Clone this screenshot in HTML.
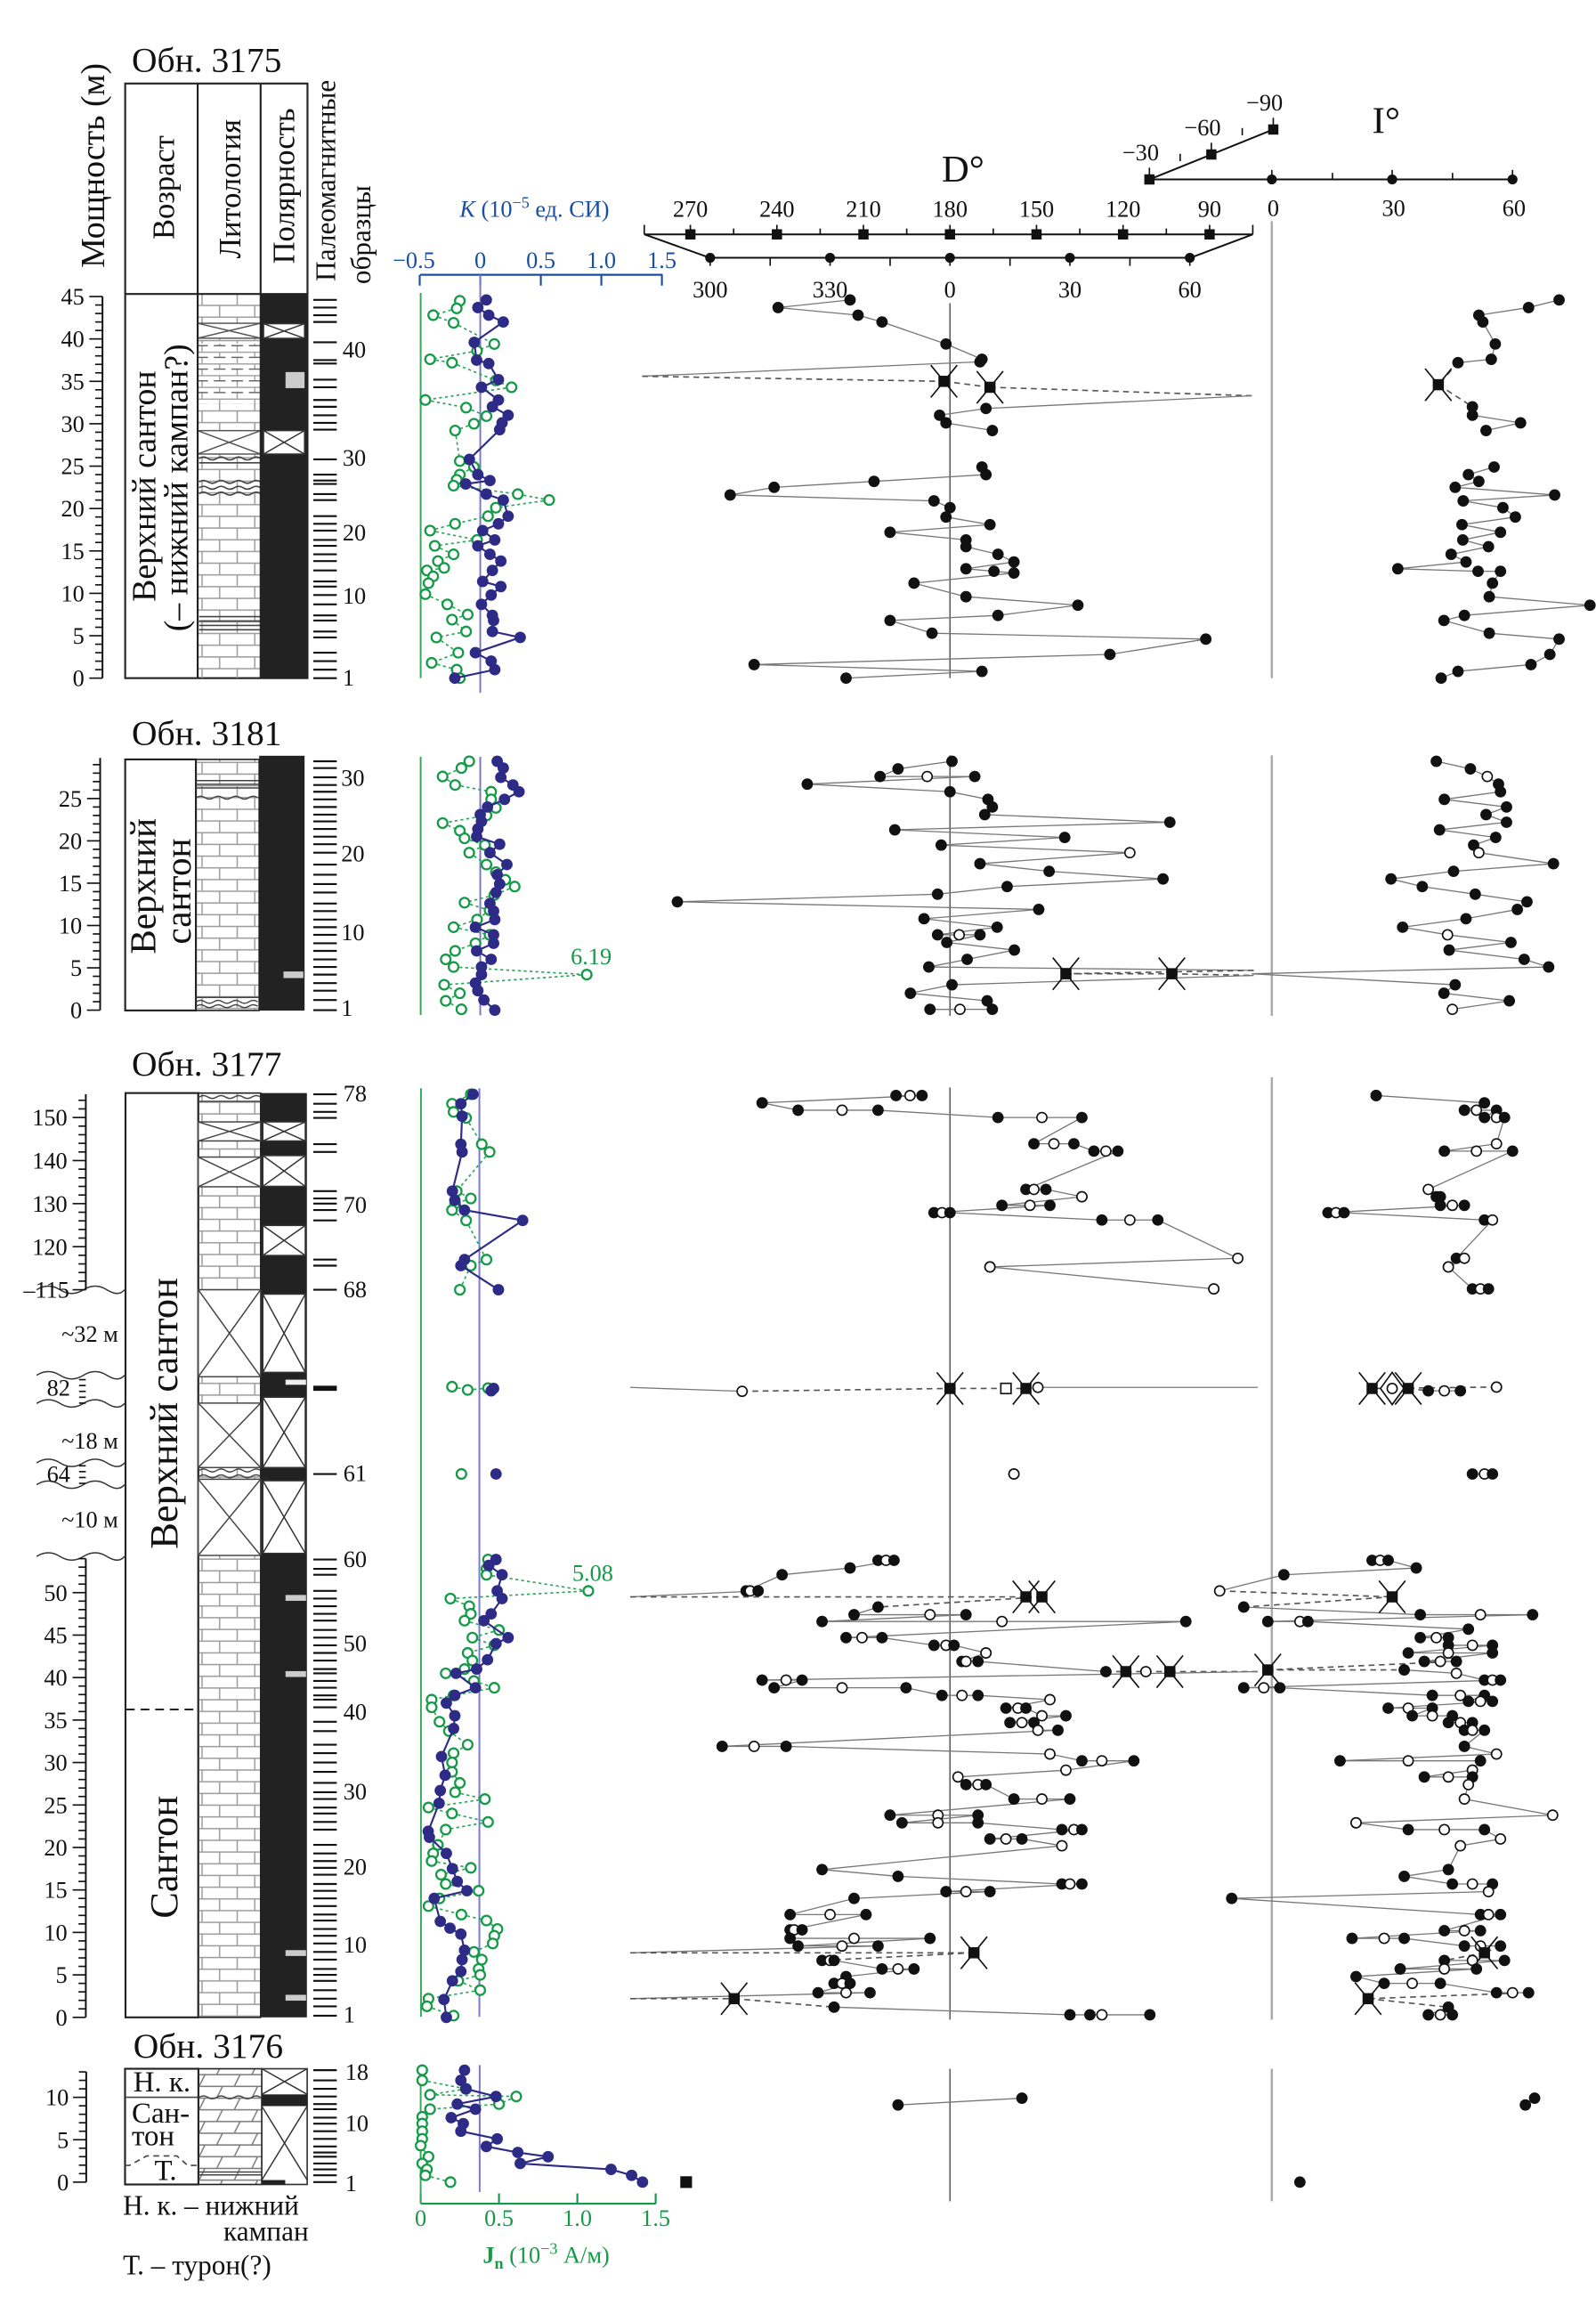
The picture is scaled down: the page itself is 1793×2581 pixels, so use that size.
<!DOCTYPE html>
<html><head><meta charset="utf-8">
<style>
html,body{margin:0;padding:0;background:#fff}
svg{display:block}
text{font-family:"Liberation Serif",serif;fill:#111}
</style></head>
<body>
<svg id="chart" xmlns="http://www.w3.org/2000/svg" width="1793" height="2581" viewBox="0 0 1090 1569">
<defs>
<pattern id="brick" patternUnits="userSpaceOnUse" width="24" height="16"><path d="M0 0.5H24M0 8.5H24M6 0.5V8.5M18 8.5V16" stroke="#9a9a9a" stroke-width="0.9" fill="none"/></pattern>
<pattern id="limedash" patternUnits="userSpaceOnUse" width="24" height="8"><path d="M0 0.5H24M6 0.5V4M18 4V8" stroke="#9a9a9a" stroke-width="0.8" fill="none"/><path d="M2 4H10M14 4H22" stroke="#666" stroke-width="0.9" fill="none"/></pattern>
<pattern id="slash" patternUnits="userSpaceOnUse" width="24" height="16"><path d="M0 0.5H24M0 8.5H24M4 8.5L8 0.5M16 16.5L20 8.5" stroke="#777" stroke-width="0.9" fill="none"/></pattern>
</defs>
<rect x="0" y="0" width="1090" height="1569" fill="#fff"/>

<text transform="translate(71,113) rotate(-90)" text-anchor="middle" font-size="23">Мощность (м)</text>
<text transform="translate(229,192) rotate(-90)" text-anchor="start" font-size="19">Палеомагнитные</text>
<text transform="translate(253,194) rotate(-90)" text-anchor="start" font-size="19">образцы</text>

<g fill="none">
<line x1="287" y1="187.6" x2="452.5" y2="187.6" stroke="#1a4ea0" stroke-width="1.3"/>
<text x="365" y="148" text-anchor="middle" font-size="16" style="fill:#1a4ea0"><tspan font-style="italic">K</tspan> (10<tspan dy="-6" font-size="11">−5</tspan><tspan dy="6"> ед. СИ)</tspan></text>
</g>
<g id="kticks"></g>

<g stroke="#111" fill="none">
<line x1="440" y1="160" x2="855.6" y2="160" stroke-width="1.2"/>
<line x1="440" y1="153.5" x2="440" y2="160"/>
<line x1="855.6" y1="153.5" x2="855.6" y2="160"/>
<line x1="484.8" y1="176" x2="813" y2="176" stroke-width="1.2"/>
<line x1="440" y1="160" x2="484.8" y2="176" stroke-width="1.2"/>
<line x1="855.6" y1="160" x2="813" y2="176" stroke-width="1.2"/>
</g>
<text x="657.7" y="124" text-anchor="middle" font-size="26">D°</text>
<g id="dticks"></g>

<g stroke="#111" fill="none">
<line x1="785" y1="122.5" x2="1033.6" y2="122.5" stroke-width="1.2"/>
<line x1="785" y1="122.5" x2="869.6" y2="88.4" stroke-width="1.2"/>
</g>
<text x="946.7" y="91" text-anchor="middle" font-size="26">I°</text>
<g id="iticks"></g>

<!-- ===== Section 1: 3175 ===== -->
<g>
<text x="90" y="49" font-size="24">Обн. 3175</text>
<rect x="85.5" y="57" width="124.5" height="406" fill="#fff" stroke="#222" stroke-width="1.3"/>
<rect x="135" y="200.7" width="43" height="262.3" fill="url(#brick)"/>
<rect x="135" y="234.6" width="43" height="41" fill="#fff"/>
<rect x="135" y="234.6" width="43" height="41" fill="url(#limedash)"/>
<g stroke="#555" stroke-width="0.9" fill="#fff">
<rect x="135" y="220.7" width="43" height="10.2"/><path d="M135 220.7L178 230.9M178 220.7L135 230.9"/>
<rect x="135" y="294" width="43" height="16"/><path d="M135 294L178 310M178 294L135 310"/>
</g>
<path d="M136 313q3-2 6 0t6 0t6 0t6 0t6 0t6 0t6 0M136 316h42M136 329q3-2 6 0t6 0t6 0t6 0t6 0t6 0t6 0M136 333q3-2 6 0t6 0t6 0t6 0t6 0t6 0t6 0M136 337q3-2 6 0t6 0t6 0t6 0t6 0t6 0t6 0M136 421h42M136 424h42M136 427h42M136 430h42" stroke="#444" stroke-width="1" fill="none"/>
<line x1="135" y1="57" x2="135" y2="463" stroke="#222" stroke-width="1.3"/>
<line x1="178" y1="57" x2="178" y2="463" stroke="#222" stroke-width="1.3"/>
<line x1="85.5" y1="200.7" x2="210" y2="200.7" stroke="#222" stroke-width="1.3"/>
<rect x="178" y="200.7" width="32" height="262.3" fill="#222"/>
<g stroke="#333" stroke-width="0.9" fill="#fff">
<rect x="180" y="221" width="28" height="10"/><path d="M180 221L208 231M208 221L180 231"/>
<rect x="180" y="294" width="28" height="16"/><path d="M180 294L208 310M208 294L180 310"/>
</g>
<rect x="195" y="254" width="13" height="11" fill="#ccc"/>
<text transform="translate(119,128) rotate(-90)" text-anchor="middle" font-size="21">Возраст</text>
<text transform="translate(164,129) rotate(-90)" text-anchor="middle" font-size="21">Литология</text>
<text transform="translate(201,127) rotate(-90)" text-anchor="middle" font-size="21">Полярность</text>
<text transform="translate(106,332) rotate(-90)" text-anchor="middle" font-size="23">Верхний сантон</text>
<text transform="translate(128,333) rotate(-90)" text-anchor="middle" font-size="23">(– нижний кампан?)</text>
<g font-size="16">
<text x="234" y="468">1</text>
<text x="234" y="412">10</text>
<text x="234" y="369">20</text>
<text x="234" y="318">30</text>
<text x="234" y="244">40</text>
</g>
</g>

<!-- ===== Section 2: 3181 ===== -->
<g>
<text x="90" y="508.4" font-size="24">Обн. 3181</text>
<rect x="85.5" y="518.5" width="48.3" height="171.4" fill="#fff" stroke="#222" stroke-width="1.3"/>
<rect x="133.8" y="518.5" width="43.2" height="171.4" fill="url(#brick)" stroke="#222" stroke-width="1"/>
<path d="M134 533h43M134 535.5h43M134 538h43M134 544.6q3-2 6 0t6 0t6 0t6 0t6 0t6 0t6 0M134 681h43M134 684q3-2 6 0t6 0t6 0t6 0t6 0t6 0t6 0M134 687q3-2 6 0t6 0t6 0t6 0t6 0t6 0t6 0" stroke="#444" stroke-width="0.9" fill="none"/>
<rect x="177" y="516" width="31" height="174" fill="#222"/>
<rect x="193.6" y="663.3" width="13.6" height="4.5" fill="#ccc"/>
<text transform="translate(106,605) rotate(-90)" text-anchor="middle" font-size="25">Верхний</text>
<text transform="translate(130,608.5) rotate(-90)" text-anchor="middle" font-size="25">сантон</text>
<g font-size="16">
<text x="233" y="536.5">30</text>
<text x="233" y="588">20</text>
<text x="233" y="642">10</text>
<text x="233" y="693.5">1</text>
</g>
</g>

<!-- ===== Section 3: 3177 ===== -->
<g>
<text x="90" y="734.4" font-size="24">Обн. 3177</text>
<rect x="85.7" y="746.3" width="49.7" height="631.1" fill="#fff" stroke="#222" stroke-width="1.3"/>
<line x1="86" y1="1167.2" x2="135" y2="1167.2" stroke="#222" stroke-width="1.2" stroke-dasharray="6,4"/>
<text transform="translate(121,965) rotate(-90)" text-anchor="middle" font-size="27">Верхний сантон</text>
<text transform="translate(121,1268) rotate(-90)" text-anchor="middle" font-size="27">Сантон</text>
<rect x="135.4" y="746.3" width="42.6" height="631.1" fill="url(#brick)" stroke="#222" stroke-width="1"/>
<path d="M136 749q3-2 6 0t6 0t6 0t6 0t6 0t6 0t6 0M136 752h42M136 1004q3-2 6 0t6 0t6 0t6 0t6 0t6 0t6 0M136 1008q3-2 6 0t6 0t6 0t6 0t6 0t6 0t6 0" stroke="#444" stroke-width="0.9" fill="none"/>
<rect x="178" y="746.3" width="31.6" height="631.1" fill="#222"/>
<g id="s3gaps"></g>
<g fill="#ccc">
<rect x="195" y="1089" width="14" height="4"/>
<rect x="195" y="1141" width="14" height="4"/>
<rect x="195" y="1331.5" width="14" height="4"/>
<rect x="195" y="1362" width="14" height="4"/>
<rect x="195" y="942" width="14" height="3.5" fill="#eee"/>
</g>
<g stroke="#333" fill="none" stroke-width="0.9">
<path d="M25 880.6q8-5 16 0t16 0t16 0t12 0"/>
<path d="M25 939q8-5 16 0t16 0t16 0t12 0"/>
<path d="M25 958.2q8-5 16 0t16 0t16 0t12 0"/>
<path d="M25 998.8q8-5 16 0t16 0t16 0t12 0"/>
<path d="M25 1013.7q8-5 16 0t16 0t16 0t12 0"/>
<path d="M25 1062.7q8-5 16 0t16 0t16 0t12 0"/>
</g>
<g font-size="16">
<text x="16" y="886">–115</text>
<text x="42" y="916">~32 м</text>
<text x="32" y="953">82</text>
<text x="42" y="989">~18 м</text>
<text x="32" y="1012">64</text>
<text x="42" y="1043">~10 м</text>
</g>
<g font-size="16">
<text x="234.5" y="752">78</text>
<text x="234.5" y="828">70</text>
<text x="234.5" y="885.6">68</text>
<text x="234.5" y="1011.4">61</text>
<text x="234.5" y="1069.9">60</text>
<text x="234.5" y="1127.4">50</text>
<text x="234.5" y="1174.3">40</text>
<text x="234.5" y="1228.5">30</text>
<text x="234.5" y="1280.1">20</text>
<text x="234.5" y="1333">10</text>
<text x="234.5" y="1381">1</text>
</g>
</g>

<!-- ===== Section 4: 3176 ===== -->
<g>
<text x="91" y="1405" font-size="24">Обн. 3176</text>
<rect x="85.4" y="1412.5" width="50.1" height="79" fill="#fff" stroke="#222" stroke-width="1.3"/>
<line x1="85.4" y1="1432" x2="135.5" y2="1432" stroke="#444" stroke-width="1"/>
<path d="M85.4 1478.5H88.4L100.2 1472H120.8L128.2 1478.5H135.5" stroke="#444" stroke-width="1" stroke-dasharray="4,3" fill="none"/>
<text x="91" y="1428" font-size="20">Н. к.</text>
<text x="90" y="1449.3" font-size="20">Сан-</text>
<text x="90" y="1464.8" font-size="20">тон</text>
<text x="105.5" y="1488.5" font-size="20">Т.</text>
<rect x="135.5" y="1412.5" width="43.3" height="79" fill="url(#slash)" stroke="#222" stroke-width="1"/>
<path d="M136 1432q3-2 6 0t6 0t6 0t6 0t6 0t6 0t6 0M136 1483h43M136 1485h43" stroke="#444" stroke-width="0.9" fill="none"/>
<rect x="178.8" y="1412.5" width="31" height="79" fill="#fff" stroke="#333" stroke-width="1"/>
<path d="M178.8 1412.5L209.8 1430M209.8 1412.5L178.8 1430M178.8 1438L209.8 1488.5M209.8 1438L178.8 1488.5" stroke="#333" stroke-width="0.9" fill="none"/>
<rect x="178.8" y="1430" width="31" height="8" fill="#222"/>
<rect x="178.8" y="1488.5" width="16" height="3" fill="#222"/>
<g font-size="16">
<text x="235.7" y="1420">18</text>
<text x="235.7" y="1455">10</text>
<text x="235.7" y="1496">1</text>
</g>
<text x="84" y="1512.3" font-size="19">Н. к. – нижний</text>
<text x="152.6" y="1529.8" font-size="19">кампан</text>
<text x="84" y="1553" font-size="19">Т. – турон(?)</text>
</g>

<g>
<line x1="287.3" y1="1504.6" x2="447.9" y2="1504.6" stroke="#159a47" stroke-width="1.3"/>
<text x="373" y="1545" text-anchor="middle" font-size="16" style="fill:#159a47"><tspan font-weight="bold">J</tspan><tspan font-weight="bold" dy="4" font-size="11">n</tspan><tspan dy="-4"> (10</tspan><tspan dy="-6" font-size="11">−3</tspan><tspan dy="6"> А/м)</tspan></text>
</g>
<g id="jticks"></g>

<g id="frames"></g>
<g id="depthaxes"></g>
<g id="sampleticks"></g>
<g id="marks"></g>
</svg>

<script>
// ---------------- DATA ----------------
const s1KDepth = [44.6,43.7,42.8,42,39.6,37.5,37.1,35.2,34.3,32.8,32,31,30.1,29.3,25.8,24,23.3,22.9,21.7,21,19.1,18.2,17.4,16.3,15.6,14.6,13.8,12.7,11.4,10.8,9.8,8.7,7.4,6.8,5.5,4.8,3,2,1,0];
const s1KVal = [0.05,-0.02,0.07,0.19,-0.05,-0.03,0.07,0.15,0.01,0.15,0.1,0.23,0.18,0.16,-0.09,-0.02,0.08,-0.12,0.05,0.19,0.23,0.15,0.02,0.12,-0.02,0.08,0.17,0.1,0.02,0.17,0.09,0.01,0.1,0.11,0.1,0.33,-0.04,0.09,0.12,-0.21];
const s1JDepth = [44.5,43.6,42.8,41.9,39.4,38.6,37.6,37.2,35.1,34.3,32.8,31.9,30.9,30,29.2,25.6,24.9,24,23.4,22.7,21.7,21,20.1,19.1,18.2,17.4,16.3,15.6,14.6,13.8,13,12.7,12,11.2,9.9,8.7,7.5,6.9,5.5,4.8,3,1.8,1,0];
const s1JVal = [0.25,0.23,0.08,0.21,0.47,0.36,0.06,0.2,0.48,0.58,0.03,0.29,0.42,0.34,0.22,0.25,0.34,0.25,0.23,0.21,0.62,0.82,0.48,0.43,0.22,0.06,0.36,0.09,0.21,0.11,0.15,0.04,0.08,0.05,0.03,0.17,0.3,0.2,0.29,0.1,0.24,0.07,0.23,0.25];
const s1DDepth = [44.6,43.7,42.8,42,39.4,37.6,37.3,35.6,35,34.3,33.3,31.8,31,30.1,29.2,null,24.9,24,23.2,22.5,21.6,20.9,20.1,19,18.1,17.2,16.3,15.5,14.6,13.7,12.9,12.6,12.4,11.2,9.6,8.6,7.4,6.8,5.3,4.6,2.8,1.6,0.8,0];
const s1DVal = [-25,-43,-23,-17,-1,8,7.5,-77,-1.5,10,75.5,9,-2.6,-1,10.6,null,8,9,-19,-44,-55,-4,0,-1,10,-15,4,4,12,16,4,11,16,-9,4,32,12,-15,-4.5,64,40,-49,8,-26];
const s1DType = "000000032230000-0000000000000000000000000000";
const s1IDepth = [44.6,43.7,42.8,42,39.4,37.6,37.2,34.6,32,31,30.1,29.2,null,24.9,24,23.2,22.5,21.6,20.9,20.1,19,18.1,17.2,16.3,15.5,14.6,13.7,12.9,12.6,12.6,11.2,9.6,8.6,7.4,6.8,5.3,4.6,2.8,1.6,0.8,0];
const s1IVal = [71.6,64,51.6,52.6,55.7,54.7,46.4,41.5,50,50,62,53.4,null,55.4,49,51.6,45.7,70.5,47.7,57.6,60.7,47.4,57,47.6,54,44.7,48.4,31.4,51.4,57,55,54.2,79.3,48,42.9,54.2,71.6,69.3,64.6,46.4,42.2];
const s1IType = "000000020000-0000000000000000000000000000";

const s2KDepth = [29.4,28.6,27.5,26.6,25.8,24.9,24,23.1,22.3,21.4,20.5,19.6,18.6,17.2,16,14.9,13.9,12.6,11.7,10.7,9.8,8.9,7.9,7,6,5.1,4.2,3.2,2.3,1.2,0];
const s2KVal = [0.14,0.19,0.17,0.27,0.32,0.2,0.06,0,0.01,-0.02,-0.03,0.16,0.08,0.22,0.14,0.16,0.13,0.08,0.11,0.12,-0.04,0.11,0.11,-0.03,0.09,0.01,0.01,-0.04,-0.02,0.03,0.12];
const s2JDepth = [29.4,28.6,27.6,26.6,25.8,24.9,23.9,23,22.1,21.2,20.3,19.5,18.6,17.2,16.3,15.4,14.6,13.6,12.7,11.8,10.7,9.8,8.9,7.9,7,6,5.1,4.2,3,2,1.1,0.1];
const s2JVal = [0.31,0.26,0.14,0.22,0.45,0.45,0.48,0.42,0.14,0.25,0.28,0.41,0.31,0.42,0.48,0.54,0.6,0.47,0.28,0.44,0.36,0.21,0.44,0.35,0.22,0.16,0.21,1.06,0.15,0.25,0.16,0.26];
const s2JOutlierIdx = [27];
const s2JOutlierLabel = ["6.19"];
const s2DDepth = [29.4,28.5,27.6,27.6,27.6,26.7,25.8,24.9,24,23.1,22.2,21.3,20.4,19.5,18.6,17.3,16.4,15.5,14.6,13.7,12.8,11.9,10.8,9.8,8.9,8.9,8.9,8,7.1,6,5.1,4.7,4.3,4.3,4.1,3,2,1.1,0.1,0.1,0.1];
const s2DVal = [0.5,-13,-17.5,-5.7,6.2,-35.7,0,9.5,10.6,8.7,55,-13.8,28.7,-2.2,45,7.5,24.8,53.3,14.3,-3.1,-68.2,22.2,-6.5,11.8,-3.1,2.3,7.5,-0.8,16.1,4.3,-5.3,76,29,55.5,76,0.5,-9.9,9.3,10.6,-5,2.5];
const s2DType = "00010000000000100000000001000003223000001";
const s2IDepth = [29.4,28.5,27.6,26.7,25.8,24.9,24,23.1,22.2,21.3,20.4,19.5,18.6,17.3,16.4,15.5,14.6,13.7,12.8,11.9,10.8,9.8,8.9,8,7.1,6,5.1,4.3,3,2,1.1,0.1];
const s2IVal = [41,49.5,53.7,56.5,57,43,58.5,53.4,58.5,41.8,55.8,50.3,51.6,70.2,45.3,29.7,37.5,50.7,63.6,61.2,48.4,32.6,43.8,59.6,44.2,62.9,69,-5,45.7,42.9,59.2,45];
const s2IType = "00100000000010000000001000030001";

const s3KDepth = [155.4,153.2,150.3,143.8,142,132.9,130.8,128.5,126.1,117,115.6,110,null,82,81.5,null,64,null,53.9,53.2,52.1,50.2,49.3,47.5,46.7,44.7,44,42.1,41,40.5,38.8,37.9,37,35.5,34,30.7,28.5,26.7,25.2,21.9,21.2,19.3,17.5,16,14.9,14,11.3,10.5,9.8,7.9,6.8,5.4,4.3,2.1,0];
const s3KVal = [-0.06,-0.16,-0.15,-0.16,-0.15,-0.23,-0.21,-0.13,0.35,-0.13,-0.16,0.15,null,0.11,0.09,null,0.13,null,0.13,0.07,0.18,0.14,0.18,0.09,0.03,0.23,0.13,0.06,-0.03,-0.2,-0.04,-0.21,-0.28,-0.21,-0.22,-0.32,-0.29,-0.33,-0.34,-0.43,-0.42,-0.28,-0.23,-0.19,-0.11,-0.38,-0.33,-0.25,-0.16,-0.13,-0.15,-0.16,-0.23,-0.3,-0.28];
const s3JDepth = [155.4,153.2,151.3,149.9,143.8,142,132.9,131.2,130,128.5,126.1,117,115.6,110,null,82.5,81.7,82.1,null,64,null,53.9,52.8,52.1,50.2,49.3,48.4,47.5,46.7,45.6,44.7,43.8,42.9,42,41,40.5,39.6,38.8,37.9,37.4,36.5,34.8,33.7,32.1,31.1,30,28.9,27.6,26.5,25.7,24.7,24,23,22.1,20.3,19.3,18.4,17.6,16.8,15.7,14.9,14,13.1,12.1,11.4,10.4,9.6,8.7,7.7,6.8,5.7,5,4.3,3.2,2.2,1.3,0.2];
const s3JVal = [0.32,0.2,0.21,0.29,0.39,0.44,0.23,0.32,0.22,0.2,0.29,0.42,0.32,0.25,null,0.2,0.3,0.43,null,0.26,null,0.43,0.42,0.42,1.07,0.19,0.31,0.32,0.28,0.5,0.33,0.47,0.3,0.33,0.28,0.16,0.34,0.47,0.21,0.07,0.07,0.12,0.18,0.3,0.21,0.2,0.2,0.25,0.22,0.41,0.05,0.2,0.43,0.16,0.11,0.08,0.07,0.32,0.13,0.16,0.37,0.12,0.05,0.26,0.42,0.49,0.47,0.46,0.34,0.39,0.37,0.38,0.24,0.38,0.05,0.04,0.21];
const s3JOutlierIdx = [24];
const s3JOutlierLabel = ["5.08"];
const s3DDepth = [155.1,153.4,151.7,150,143.9,142.2,133.3,131.6,129.6,127.9,126.2,117.3,115.3,110.2,null,82.3,81.4,82,82.3,null,64,null,
 53.8,52.9,52.1,50.2,49.5,48.3,47.4,46.6,44.7,43.8,42.9,41.9,40.7,39.7,38.8,37.9,37.4,36.4,35.5,34.7,33.8,31.9,31,30.2,29.1,28.3,27.4,25.7,23.8,22.9,22.1,21,20.2,17.4,16.6,15.7,14.8,14,12.1,10.3,9.3,8.4,7.6,6.7,5.7,4.8,4,2.9,2.2,1.2,0.3];
const s3DVals = [[-13.5,-10,-7],[-47],[-38,-27,-18],[12,23,33],[21,26,31],[36,39,42],[19,21,24],[33,33],[13,20,25],[-4,-2,0],[38,45,52],[72],[10,10],[66,66],[],[-80],[-52],[0,14,19],[22,77],[],[16,16],[],
 [-18,-16,-14],[-25],[-42],[-51,-50,-48],[-80,19,23],[-18],[-24,-5,4],[-32,13,59],[-26,-22,-17],[-4,-1,1],[9,9],[3,4,7],[39,44,49,55,77],[-47,-41,-37],[-44,-27,-11],[-2,3,7],[25],[14,17,19],[23,29],[15,18,21],[22,27],[-57,-49,-41],[25],[33,38,46],[29],[2],[4,7,9],[16,23,30],[-15,-3,7],[-12,-3,7],[28,31,33],[10,14,18],[28],[-32],[-13],[28,30,33],[-1,4,10],[-24],[-40,-30,-21],[-40,-39,-37],[-40,-24,-5],[-38,-27,-18],[-80,6],[-32,-30,-29],[-17,-13,-9],[-26],[-29,-27,-25],[-33,-26,-20],[-80,-54],[-29],[30,35,38,50]];
const s3DTypes = ["010","0","010","010","010","010","010","01","010","010","010","1","01","01","","3","1","252","13","","01","",
 "010","0","0","010","322","0","010","010","010","010","01","010","02123","010","010","010","1","010","10","010","10","010","1","010","1","1","010","010","010","010","010","010","1","0","0","010","010","0","010","010","010","010","32","010","010","0","010","010","32","0","0010"];
const s3IDepth = [155.1,153.4,151.7,150,143.9,142.2,133.3,131.6,129.6,127.9,126.2,117.3,115.3,110.2,null,82.4,82,81.5,null,64,null,
 53.8,52.9,52.1,50.2,49.5,48.3,47.4,46.6,45.7,44.7,43.8,42.9,41.9,40.9,40.5,39.7,38.8,37.9,37.2,36.4,35.5,34.7,33.8,31.9,31,30.2,29.1,28.3,27.4,25.7,23.8,22.9,22.1,21,20.2,17.4,16.6,15.7,14.8,14,12.1,10.2,9.3,8.4,7.6,6.7,5.7,4.8,4,2.9,2.2,1.2,0.3];
const s3IVals = [[26,26],[53],[48,51,56],[53,56,58],[56],[43,51,60],[39],[41,42],[42,45,48],[14,16,18],[53,55],[46,48],[44,44],[50,52,54],[],[56,56],[25,30,34],[39,43,47],[],[50,53,55],[],
 [25,27,29],[36],[3],[-13],[30],[-7],[37,52,65],[-1,7,9],[49],[37,41,44],[44,50,55],[34,44,55],[38,42,46],[-1,33],[46],[53,55,57],[-7,-2,2],[40,47,53],[49,52,55],[29,34,40],[35,40,45],[44,47,50],[48,50,53],[48],[56],[17,34,52],[50,50],[38,44,50],[49],[48],[70],[21,21],[34,43,53],[57],[47],[44],[33],[45,50,55],[54],[-10],[52,54,57],[43,48,52],[20,28,33],[48,52,57],[53],[43,50,58],[32,43,51],[21],[28,35,42],[56,60,64],[24],[44],[39,42,45]];
const s3ITypes = ["10","0","010","010","1","010","1","00","010","010","01","01","01","010","","01","262","010","","010","",
 "010","0","0","1","2","0","010","010","0","010","010","010","010","20","1","010","010","010","010","010","010","010","010","0","1","010","01","010","1","1","1","01","010","1","1","0","0","010","1","0","010","010","010","010","2","010","010","0","010","010","2","0","010"];

const s4KDepth = [13.2,12,11,10.1,9.2,8.6,7.6,6.9,6,5.1,4.2,3.5,3,2.2,1.5,0.8,0];
const s4KVal = [-0.13,-0.16,-0.12,0.13,-0.19,-0.04,-0.24,-0.14,-0.16,0.14,0.05,0.31,0.56,0.33,1.08,1.25,1.34];
const s4JDepth = [13.2,12,11,10.3,10.1,9.2,8.6,7.7,6.9,6,5.1,4.3,3,2.2,1.5,0.8,0];
const s4JVal = [0.01,0.01,0.29,0.06,0.61,0.5,0.06,0.01,0.01,0.01,0.01,0,0.05,0.01,0.04,0.03,0.19];
const s4DDepth = [9.9,9.1,null,0];
const s4DVal = [18,-13,null,-66];
const s4DType = "00-4";
const s4IDepth = [9.9,9.1,null,0];
const s4IVal = [65.5,63.2,null,7];
const s4IType = "00-0";

const kTicks = [-0.5,0,0.5,1.0,1.5];
const kTickLabels = ["−0.5","0","0.5","1.0","1.5"];
const jTicks = [0,0.5,1.0,1.5];
const jTickLabels = ["0","0.5","1.0","1.5"];
const dNormTicks = [-60,-30,0,30,60];
const dNormLabels = ["300","330","0","30","60"];
const dRevTicks = [270,240,210,180,150,120,90];
const iTicks = [0,30,60];
const iNegTicks = [-30,-60,-90];

// ---------------- SCALES ----------------
const NS = "http://www.w3.org/2000/svg";
function mk(tag, attrs, parent){ const e=document.createElementNS(NS,tag); for(const k in attrs) e.setAttribute(k,attrs[k]); parent.appendChild(e); return e; }
const xK = v => 328 + v*82.7;
const xJ = v => 287.3 + v*107;
const xD = v => 648.8 + v*2.73;
const xDrev = v => 648.8 + (180 - v)*1.97;
const xI = v => 868.6 + v*2.74;
const y1 = d => 463 - d*5.79;
const y2 = d => 689.7 - d*5.78;
const y4 = d => 1489.9 - d*5.79;
function y3(d){
  if(d>=110) return 880.6 - (d-110)*2.94;
  if(d>=82) return 948 - (d-82)*(67.4/28);
  if(d>=64) return 1006.4 - (d-64)*(58.4/18);
  if(d>=56) return 1052.6 - (d-56)*(46.2/8);
  return 1377.4 - d*5.8;
}

// ---------------- AXES ----------------
const kt = document.getElementById('kticks');
kTicks.forEach((v,i)=>{
  const t = mk('line',{x1:xK(v),y1:187.6,x2:xK(v),y2:195,stroke:'#1a4ea0','stroke-width':1.3},kt);
  
  
  const l = mk('text',{x:xK(v)-(i===0?4:0),y:183,'text-anchor':'middle','font-size':16,style:'fill:#1a4ea0'},kt);
  l.textContent = kTickLabels[i];
  
  
});
const jt = document.getElementById('jticks');
jTicks.forEach((v,i)=>{
  const t = mk('line',{x1:xJ(v),y1:1497.6,x2:xJ(v),y2:1504.6,stroke:'#159a47','stroke-width':1.3},jt);
  
  
  const l = mk('text',{x:xJ(v),y:1519.7,'text-anchor':'middle','font-size':16,style:'fill:#159a47'},jt);
  l.textContent = jTickLabels[i];
  
  
});
const dt = document.getElementById('dticks');
dRevTicks.forEach(v=>{
  const x = xDrev(v);
  const t = mk('line',{x1:x,y1:153.5,x2:x,y2:160,stroke:'#111'},dt);
  
  
  const s = mk('rect',{x:x-3.5,y:156.5,width:7,height:7,fill:'#111'},dt);
  
  
  const l = mk('text',{x:x,y:148,'text-anchor':'middle','font-size':16},dt);
  l.textContent = String(v);
  
  
});
for(let k=0;k<6;k++){
  const x = (xDrev(dRevTicks[k])+xDrev(dRevTicks[k+1]))/2;
  const t = mk('line',{x1:x,y1:156,x2:x,y2:160,stroke:'#111'},dt);
  
  
}
dNormTicks.forEach((v,i)=>{
  const x = xD(v);
  const t = mk('line',{x1:x,y1:176,x2:x,y2:181.5,stroke:'#111'},dt);
  
  
  const c = mk('circle',{cx:x,cy:176,r:3.4,fill:'#111'},dt);
  
  
  const l = mk('text',{x:x,y:203,'text-anchor':'middle','font-size':16},dt);
  l.textContent = dNormLabels[i];
  
  
  if(i<4){
    const m = mk('line',{x1:x+41,y1:176,x2:x+41,y2:181.5,stroke:'#111'},dt);
    
    
  }
});
const it = document.getElementById('iticks');
iTicks.forEach(v=>{
  const x = xI(v);
  const t = mk('line',{x1:x,y1:116,x2:x,y2:122.5,stroke:'#111'},it);
  
  
  const c = mk('circle',{cx:x,cy:122.5,r:3.4,fill:'#111'},it);
  
  
  const l = mk('text',{x:x+1,y:147.3,'text-anchor':'middle','font-size':16},it);
  l.textContent = String(v);
  
  
});
[910,992].forEach(x=>{
  const t = mk('line',{x1:x,y1:118,x2:x,y2:122.5,stroke:'#111'},it);
  
  
});
iNegTicks.forEach(v=>{
  const f = (v+30)/(-60);
  const x = 785 + f*84.6, y = 122.5 - f*34.1;
  const t = mk('line',{x1:x,y1:y-8,x2:x,y2:y,stroke:'#111'},it);
  
  
  const s = mk('rect',{x:x-3.5,y:y-3.5,width:7,height:7,fill:'#111'},it);
  
  
  const l = mk('text',{x:x-6,y:y-13,'text-anchor':'middle','font-size':16},it);
  l.textContent = '−'+String(-v);
  
  
});
[[806,110],[848.4,92.4]].forEach(p=>{
  const t = mk('line',{x1:p[0],y1:p[1]-5,x2:p[0],y2:p[1],stroke:'#111'},it);
  
  
});

const fr = document.getElementById('frames');
const refs = [
 [648.8,207,463,'#555',0.9,'d-zero-line-3175'],[868.6,151,463,'#aaa',1.5,'i-zero-line-3175'],
 [648.8,515.7,693.6,'#555',0.9,'d-zero-line-3181'],[868.6,515.7,693.6,'#aaa',1.5,'i-zero-line-3181'],
 [648.8,742.5,1379,'#555',0.9,'d-zero-line-3177'],[868.6,735.5,1379,'#aaa',1.5,'i-zero-line-3177'],
 [648.8,1412.5,1503,'#555',0.9,'d-zero-line-3176'],[868.6,1412.5,1503,'#aaa',1.5,'i-zero-line-3176'],
 [328,187.6,473,'#7a78c8',1.2,'k-zero-line-3175'],[287.3,200,463,'#3aa65a',1.2,'jn-zero-line-3175'],
 [328,516.7,693.2,'#7a78c8',1.2,'k-zero-line-3181'],[287.3,516.7,693,'#3aa65a',1.2,'jn-zero-line-3181'],
 [327.4,743,1377,'#7a78c8',1.2,'k-zero-line-3177'],[287.5,743,1377,'#3aa65a',1.2,'jn-zero-line-3177'],
 [327.6,1410,1496.6,'#7a78c8',1.2,'k-zero-line-3176'],[287.3,1410,1504.6,'#3aa65a',1.2,'jn-zero-line-3176']
];
refs.forEach(r=>{
  const l = mk('line',{x1:r[0],y1:r[1],x2:r[0],y2:r[2],stroke:r[3],'stroke-width':r[4]},fr);
  
  
});

const g3 = document.getElementById('s3gaps');
const lithGaps = [[766,779],[790,810.3],[880.6,940],[958,1002],[1010,1062]];
const polGaps = [[766,779],[789,810],[836.7,857.2],[883.6,937],[954,1002],[1011,1060.6]];
lithGaps.forEach(g=>{
  const r = mk('rect',{x:135.4,y:g[0],width:42.6,height:g[1]-g[0],fill:'#fff',stroke:'#444','stroke-width':0.9},g3);
  
  
  const p = mk('path',{d:`M135.4 ${g[0]}L178 ${g[1]}M178 ${g[0]}L135.4 ${g[1]}`,stroke:'#444','stroke-width':0.9,fill:'none'},g3);
  
  
});
polGaps.forEach(g=>{
  const r = mk('rect',{x:179.5,y:g[0],width:29,height:g[1]-g[0],fill:'#fff',stroke:'#333','stroke-width':0.9},g3);
  
  
  const p = mk('path',{d:`M179.5 ${g[0]}L208.5 ${g[1]}M208.5 ${g[0]}L179.5 ${g[1]}`,stroke:'#333','stroke-width':0.9,fill:'none'},g3);
  
  
});

const da = document.getElementById('depthaxes');
function depthAxis(x, d0, d1, yf, labelRight, name, step, majorStep, labelMin){
  const ln = mk('line',{x1:x,y1:yf(d0),x2:x,y2:yf(d1),stroke:'#111','stroke-width':1.2},da);
  
  
  for(let d=Math.ceil(d0/step)*step; d<=d1; d+=step){
    const major = d%majorStep===0;
    const t = mk('line',{x1:x-(major?9:5),y1:yf(d),x2:x,y2:yf(d),stroke:'#111','stroke-width':1},da);
    
    
    if(major && d>=labelMin){
      const l = mk('text',{x:labelRight,y:yf(d)+5.5,'text-anchor':'end','font-size':16},da);
      l.textContent = String(d);
      
      
    }
  }
}
depthAxis(70,0,45,y1,57.6,'depth-axis-3175',1,5,0);
depthAxis(68.4,0,29.8,y2,56,'depth-axis-3181',1,5,0);
depthAxis(58.6,0,54,y3,46,'depth-axis-3177-lower',1,5,0);
depthAxis(58.6,110,155.4,y3,46,'depth-axis-3177-upper',2,10,120);
depthAxis(58.9,0,13,y4,47,'depth-axis-3176',1,5,0);
[[940,958.2],[998.8,1013.7]].forEach(s=>{
  for(let y=s[0]+2;y<s[1];y+=4){
    const t = mk('line',{x1:54,y1:y,x2:58.6,y2:y,stroke:'#111'},da);
    
    
  }
});

const st = document.getElementById('sampleticks');
function sampleTicks(depths, yf, name){
  depths.forEach(d=>{
    if(d===null) return;
    const t = mk('line',{x1:214,y1:yf(d),x2:230,y2:yf(d),stroke:'#111','stroke-width':1.3},st);
    
    
  });
}
sampleTicks(s1KDepth,y1,'sample-tick-3175');
sampleTicks(s2KDepth,y2,'sample-tick-3181');
sampleTicks(s3JDepth,y3,'sample-tick-3177');
sampleTicks(s4KDepth,y4,'sample-tick-3176');

// ---------------- MARKS ----------------
const mg = document.getElementById('marks');
function flat(depths, vals, types){
  return depths.map((d,i)=> d===null ? null : {d:d, v:vals[i], t:+(types[i]||0)});
}
function rows(depths, vals, types){
  const out=[];
  depths.forEach((d,i)=>{
    if(d===null){ out.push(null); return; }
    vals[i].forEach((v,j)=> out.push({d:d, v:v, t:+((types[i]||'')[j]||0)}));
  });
  return out;
}
function drawDir(pts, xf, yf, name){
  for(let i=1;i<pts.length;i++){
    const a=pts[i-1], b=pts[i];
    if(!a||!b) continue;
    const dashed = (a.t===2||b.t===2);
    const l = mk('line',{x1:xf(a.v),y1:yf(a.d),x2:xf(b.v),y2:yf(b.d),stroke:dashed?'#555':'#777','stroke-width':dashed?1:0.8},mg);
    if(dashed) l.setAttribute('stroke-dasharray','4,3');
    
    
  }
  pts.forEach(p=>{
    if(!p || p.t===3) return;
    const x=xf(p.v), y=yf(p.d);
    if(p.t===0 || p.t===1){
      const c = mk('circle',{cx:x,cy:y,r:3.4,fill:p.t===0?'#111':'#fff',stroke:'#111','stroke-width':1},mg);
      
      
    } else if(p.t===2){
      const x1 = mk('path',{d:`M${x-9} ${y-11}L${x+9} ${y+11}M${x+9} ${y-11}L${x-9} ${y+11}`,stroke:'#111','stroke-width':1,fill:'none'},mg);
      
      
      const s = mk('rect',{x:x-3.8,y:y-3.8,width:7.6,height:7.6,fill:'#111'},mg);
      
      
    } else if(p.t===4 || p.t===5){
      const s = mk('rect',{x:x-3.5,y:y-3.5,width:7,height:7,fill:p.t===4?'#111':'#fff',stroke:'#111'},mg);
      
      
    } else if(p.t===6){
      const dm = mk('path',{d:`M${x} ${y-11}L${x+8} ${y}L${x} ${y+11}L${x-8} ${y}Z`,stroke:'#111','stroke-width':1,fill:'#fff'},mg);
      
      
      const c = mk('circle',{cx:x,cy:y,r:3.4,fill:'#fff',stroke:'#111'},mg);
      
      
    }
  });
}
function drawK(depths, vals, yf, name){
  for(let i=1;i<depths.length;i++){
    if(depths[i-1]===null||depths[i]===null) continue;
    const l = mk('line',{x1:xK(vals[i-1]),y1:yf(depths[i-1]),x2:xK(vals[i]),y2:yf(depths[i]),stroke:'#2d2b86','stroke-width':1.3},mg);
    
    
  }
  depths.forEach((d,i)=>{
    if(d===null) return;
    const c = mk('circle',{cx:xK(vals[i]),cy:yf(d),r:3.9,fill:'#2d2b86'},mg);
    
    
  });
}
function drawJ(depths, vals, yf, name, outIdx, outLab){
  for(let i=1;i<depths.length;i++){
    if(depths[i-1]===null||depths[i]===null) continue;
    const l = mk('line',{x1:xJ(vals[i-1]),y1:yf(depths[i-1]),x2:xJ(vals[i]),y2:yf(depths[i]),stroke:'#2aa55a','stroke-width':1,'stroke-dasharray':'2,2'},mg);
    
    
  }
  depths.forEach((d,i)=>{
    if(d===null) return;
    const c = mk('circle',{cx:xJ(vals[i]),cy:yf(d),r:3.3,fill:'#fff',stroke:'#159a47','stroke-width':1.4},mg);
    
    
  });
  (outIdx||[]).forEach((idx,k)=>{
    const t = mk('text',{x:xJ(vals[idx])+3,y:yf(depths[idx])-7,'text-anchor':'middle','font-size':16,style:'fill:#159a47'},mg);
    t.textContent = outLab[k];
    
    
  });
}

drawJ(s1JDepth,s1JVal,y1,'jn-3175');
drawK(s1KDepth,s1KVal,y1,'k-3175');
drawJ(s2JDepth,s2JVal,y2,'jn-3181',s2JOutlierIdx,s2JOutlierLabel);
drawK(s2KDepth,s2KVal,y2,'k-3181');
drawJ(s3JDepth,s3JVal,y3,'jn-3177',s3JOutlierIdx,s3JOutlierLabel);
drawK(s3KDepth,s3KVal,y3,'k-3177');
drawJ(s4JDepth,s4JVal,y4,'jn-3176');
drawK(s4KDepth,s4KVal,y4,'k-3176');

drawDir(flat(s1DDepth,s1DVal,s1DType),xD,y1,'declination-3175');
drawDir(flat(s1IDepth,s1IVal,s1IType),xI,y1,'inclination-3175');
drawDir(flat(s2DDepth,s2DVal,s2DType),xD,y2,'declination-3181');
drawDir(flat(s2IDepth,s2IVal,s2IType),xI,y2,'inclination-3181');
drawDir(rows(s3DDepth,s3DVals,s3DTypes),xD,y3,'declination-3177');
drawDir(rows(s3IDepth,s3IVals,s3ITypes),xI,y3,'inclination-3177');
drawDir(flat(s4DDepth,s4DVal,s4DType),xD,y4,'declination-3176');
drawDir(flat(s4IDepth,s4IVal,s4IType),xI,y4,'inclination-3176');
</script>
</body></html>
